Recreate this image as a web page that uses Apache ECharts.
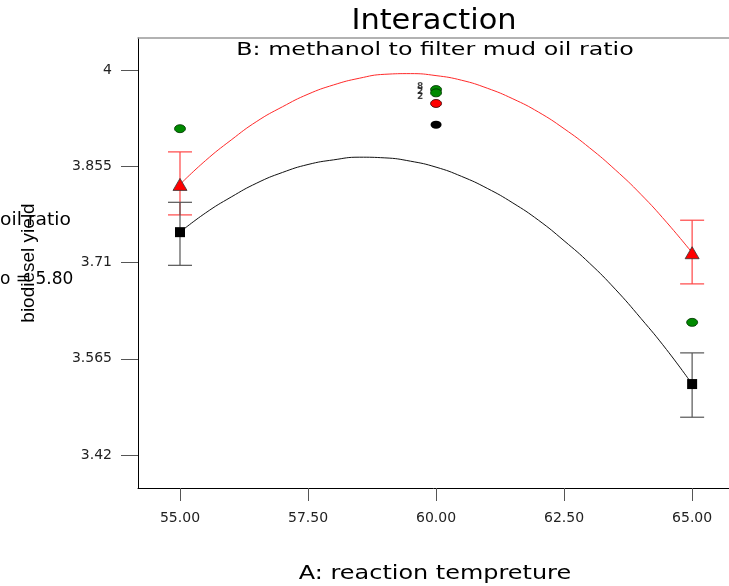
<!DOCTYPE html>
<html>
<head>
<meta charset="utf-8">
<script src="https://cdn.jsdelivr.net/npm/echarts@6/dist/echarts.min.js"></script>
<style>
  html, body { margin: 0; padding: 0; background: #fff; }
  #chart { width: 729px; height: 586px; }
</style>
</head>
<body>
<div id="chart"></div>
<script>
// values
const tempX = [55, 55.5, 56, 56.5, 57, 57.5, 58, 58.5, 59, 59.5, 60,
  60.5, 61, 61.5, 62, 62.5, 63, 63.5, 64, 64.5, 65]
// red line (high B), black line (low B)
const fitHigh = [3.828, 3.864, 3.895, 3.923, 3.945, 3.964, 3.978, 3.988, 3.994, 3.995, 3.992,
  3.985, 3.973, 3.957, 3.937, 3.912, 3.883, 3.850, 3.813, 3.771, 3.725]
const fitLow = [3.756, 3.785, 3.809, 3.830, 3.846, 3.858, 3.865, 3.869, 3.868, 3.863, 3.854,
  3.840, 3.822, 3.800, 3.774, 3.743, 3.709, 3.670, 3.626, 3.579, 3.527]

const endX = [55, 65]
const highMean = [3.828, 3.725]
const lowMean = [3.756, 3.527]
// [x, lower, upper]
const highErr = [[55, 3.782, 3.877], [65, 3.678, 3.774]]
const lowErr = [[55, 3.706, 3.801], [65, 3.477, 3.574]]

const greenPts = [[55, 3.912], [60, 3.971], [60, 3.966], [65, 3.620]]
const redPts = [[60, 3.950]]
const blackPts = [[60, 3.918]]
const countLabels = [[59.69, 3.976, '8'], [59.69, 3.968, '2'], [59.69, 3.961, '2']]

const xTicks = [55, 57.5, 60, 62.5, 65]
const yTicks = [3.42, 3.565, 3.71, 3.855, 4]

const chart = echarts.init(document.getElementById('chart'))

function pairs(xs, ys) {
  return xs.map((x, i) => [x, ys[i]])
}

function errorBars(color) {
  return function(params, api) {
    const x = api.value(0)
    const top = api.coord([x, api.value(2)])
    const bot = api.coord([x, api.value(1)])
    const hw = 12
    const style = { stroke: color, lineWidth: 1.2 }
    return {
      type: 'group',
      children: [
        { type: 'line', shape: { x1: top[0], y1: top[1], x2: bot[0], y2: bot[1] }, style: style },
        { type: 'line', shape: { x1: top[0] - hw, y1: top[1], x2: top[0] + hw, y2: top[1] }, style: style },
        { type: 'line', shape: { x1: bot[0] - hw, y1: bot[1], x2: bot[0] + hw, y2: bot[1] }, style: style }
      ]
    }
  }
}

const tickFont = { fontFamily: 'DejaVu Sans', fontSize: 14, color: '#222' }

const options = {
  animation: false,
  backgroundColor: '#fff',
  grid: { left: 138, top: 38, right: 0, bottom: 98 },
  graphic: [
    {
      type: 'text', x: 434, y: 21,
      style: { text: 'Interaction', fontFamily: 'DejaVu Sans', fontSize: 29, fill: '#000', align: 'center', verticalAlign: 'middle' },
      scaleX: 1.05
    },
    {
      type: 'text', x: 435, y: 50,
      style: { text: 'B: methanol to filter mud oil ratio', fontFamily: 'DejaVu Sans', fontSize: 18, fill: '#000', align: 'center', verticalAlign: 'middle' },
      scaleX: 1.32
    },
    {
      type: 'text', x: 435, y: 574,
      style: { text: 'A: reaction tempreture', fontFamily: 'DejaVu Sans', fontSize: 19, fill: '#000', align: 'center', verticalAlign: 'middle' },
      scaleX: 1.26
    },
    {
      type: 'text', x: 0, y: 221,
      style: { text: 'oil ratio', fontFamily: 'DejaVu Sans', fontSize: 17, fill: '#000', align: 'left', verticalAlign: 'middle' },
      scaleX: 1.1
    },
    {
      type: 'text', x: 0, y: 280,
      style: { text: 'o = 5.80', fontFamily: 'DejaVu Sans', fontSize: 17, fill: '#000', align: 'left', verticalAlign: 'middle' }
    }
  ],
  xAxis: [
    {
      type: 'value',
      min: 54.18,
      max: 65.72,
      axisLine: { lineStyle: { color: '#000', width: 1 } },
      splitLine: { show: false },
      axisTick: { customValues: xTicks, length: 13, lineStyle: { color: '#555' } },
      axisLabel: Object.assign({ customValues: xTicks, margin: 23, formatter: v => v.toFixed(2) }, tickFont)
    },
    {
      type: 'value',
      position: 'top',
      min: 54.18,
      max: 65.72,
      axisLine: { show: true, lineStyle: { color: '#999', width: 1.5 } },
      splitLine: { show: false },
      axisTick: { show: false },
      axisLabel: { show: false }
    }
  ],
  yAxis: {
    type: 'value',
    min: 3.3703,
    max: 4.0487,
    name: 'biodiesel yield',
    nameLocation: 'middle',
    nameGap: 100,
    nameTextStyle: { fontFamily: 'Liberation Sans', fontSize: 19, color: '#000' },
    axisLine: { show: true, lineStyle: { color: '#000', width: 1 } },
    splitLine: { show: false },
    axisTick: { customValues: yTicks, length: 17, lineStyle: { color: '#555' } },
    axisLabel: Object.assign({ customValues: yTicks, margin: 26, formatter: v => String(v) }, tickFont)
  },
  series: [
    {
      type: 'line',
      data: pairs(tempX, fitHigh),
      showSymbol: false,
      smooth: true,
      lineStyle: { color: '#ff2a2a', width: 1 },
      z: 2
    },
    {
      type: 'line',
      data: pairs(tempX, fitLow),
      showSymbol: false,
      smooth: true,
      lineStyle: { color: '#111', width: 1 },
      z: 2
    },
    {
      type: 'custom',
      renderItem: errorBars('#ff4545'),
      data: highErr,
      z: 3
    },
    {
      type: 'custom',
      renderItem: errorBars('#555'),
      data: lowErr,
      z: 3
    },
    {
      type: 'scatter',
      data: pairs(endX, lowMean),
      symbol: 'rect',
      symbolSize: 10,
      itemStyle: { color: '#000', opacity: 1 },
      z: 5
    },
    {
      type: 'scatter',
      data: pairs(endX, highMean),
      symbol: 'triangle',
      symbolSize: [14, 12],
      itemStyle: { color: '#ff0000', borderColor: '#333', borderWidth: 0.8, opacity: 1 },
      z: 5
    },
    {
      type: 'scatter',
      data: greenPts,
      symbol: 'circle',
      symbolSize: [11, 8],
      itemStyle: { color: '#008a00', borderColor: '#003300', borderWidth: 0.8, opacity: 1 },
      z: 5
    },
    {
      type: 'scatter',
      data: redPts,
      symbol: 'circle',
      symbolSize: [11, 8],
      itemStyle: { color: '#ff0000', borderColor: '#330000', borderWidth: 0.8, opacity: 1 },
      z: 4
    },
    {
      type: 'scatter',
      data: blackPts,
      symbol: 'circle',
      symbolSize: [11, 8],
      itemStyle: { color: '#000', opacity: 1 },
      z: 5
    },
    {
      type: 'scatter',
      data: countLabels,
      symbolSize: 0,
      label: {
        show: true,
        position: 'inside',
        formatter: p => p.data[2],
        fontFamily: 'DejaVu Sans',
        fontSize: 9,
        fontWeight: 'bold',
        color: '#111'
      },
      z: 6
    }
  ]
}

chart.setOption(options)
window.addEventListener('resize', function() {
  chart.resize()
})
</script>
</body>
</html>
